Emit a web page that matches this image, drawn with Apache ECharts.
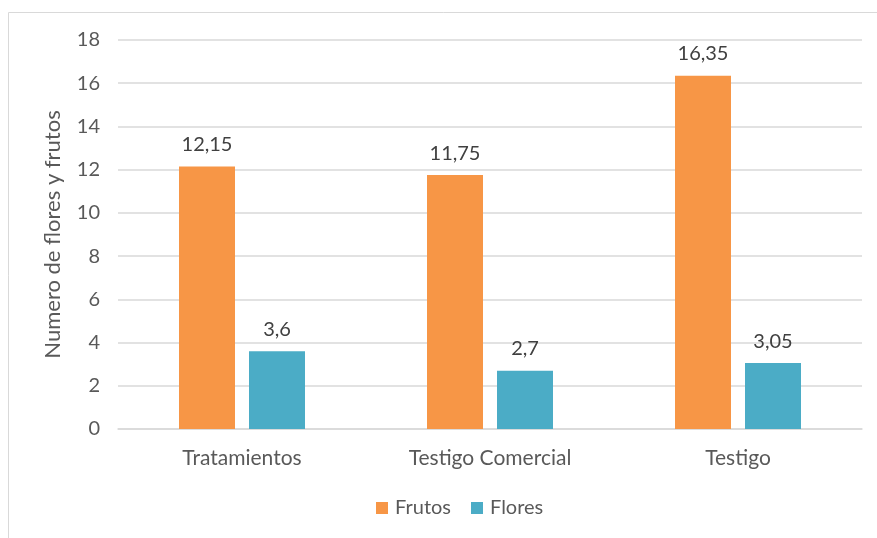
<!DOCTYPE html>
<html><head><meta charset="utf-8">
<script src="https://cdn.jsdelivr.net/npm/echarts@6/dist/echarts.min.js"></script>
<style>html,body{margin:0;padding:0;background:#fff}#c{width:877px;height:538px}</style>
</head><body><div id="c"></div>
<script>
const categories = ['Tratamientos', 'Testigo Comercial', 'Testigo'];
const frutos = [12.15, 11.75, 16.35];
const flores = [3.6, 2.7, 3.05];
const yTicks = {min: 0, max: 18, interval: 2};
const FONT = 'Lato';
const chart = echarts.init(document.getElementById('c'));
const lbl = {show: true, position: 'top', distance: 12, color: '#404040', fontSize: 20, fontFamily: FONT,
  formatter: p => String(p.value).replace('.', ',')};
chart.setOption({
  animation: false,
  textStyle: {fontFamily: FONT},
  graphic: [{type: 'rect', shape: {x: 8.5, y: 12.5, width: 880, height: 540}, style: {fill: 'none', stroke: '#d9d9d9', lineWidth: 1}, silent: true}],
  grid: {left: 118, right: 15, top: 40, bottom: 109},
  legend: {bottom: 15, left: 371, itemWidth: 12, itemHeight: 12, itemGap: 20, icon: 'rect',
    textStyle: {color: '#595959', fontSize: 20, fontFamily: FONT, padding: [0, 0, 0, 2]}, data: ['Frutos', 'Flores']},
  xAxis: {type: 'category', data: categories,
    axisLine: {lineStyle: {color: '#d9d9d9', width: 1.5}}, axisTick: {show: false},
    axisLabel: {color: '#595959', fontSize: 21, fontFamily: FONT, margin: 19}},
  yAxis: {type: 'value', min: yTicks.min, max: yTicks.max, interval: yTicks.interval,
    name: 'Numero de flores y frutos', nameLocation: 'middle', nameGap: 54,
    nameTextStyle: {color: '#595959', fontSize: 22, fontFamily: FONT},
    axisLine: {show: false}, axisTick: {show: false},
    axisLabel: {color: '#595959', fontSize: 20, fontFamily: FONT, margin: 18},
    splitLine: {lineStyle: {color: '#d9d9d9', width: 1.5}}},
  series: [
    {name: 'Frutos', type: 'bar', data: frutos, barWidth: 56, barGap: '25%', itemStyle: {color: '#F79646'}, label: lbl},
    {name: 'Flores', type: 'bar', data: flores, barWidth: 56, itemStyle: {color: '#4BACC6'}, label: lbl}
  ]
});
</script></body></html>
